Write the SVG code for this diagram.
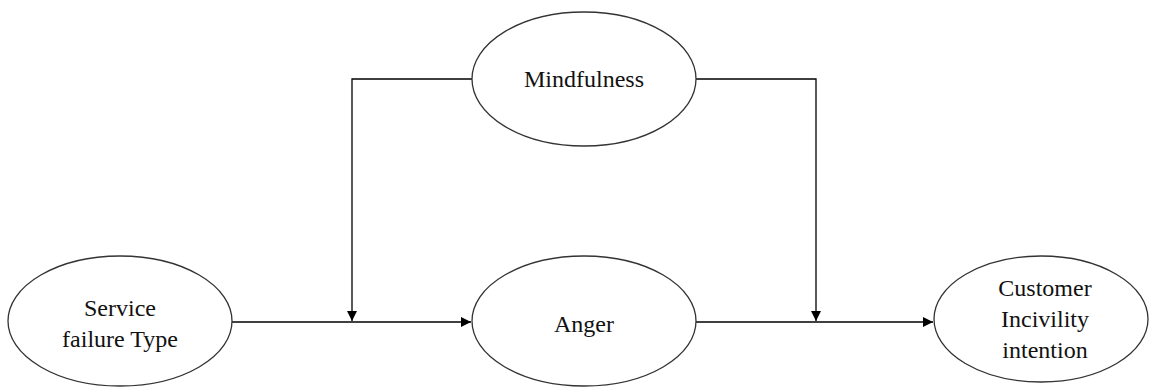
<svg xmlns="http://www.w3.org/2000/svg" width="1149" height="387" viewBox="0 0 1149 387">
<style>
.node{fill:#fff;stroke:#333;stroke-width:1.3}
.lbl{font-family:'Liberation Serif','Times New Roman',Times,'DejaVu Serif',serif;font-size:24px;fill:#111;text-anchor:middle}
.conn{fill:none;stroke:#000;stroke-width:1.3}
</style>
<defs>
<marker id="arr" viewBox="0 0 10 10" refX="10" refY="5" markerWidth="10" markerHeight="10" markerUnits="userSpaceOnUse" orient="auto">
<path d="M0,0 L10,5 L0,10 z" fill="#000"/>
</marker>
</defs>
<rect width="1149" height="387" fill="#fff"/>
<g id="connectors">
<path class="conn" d="M232,322 H471" marker-end="url(#arr)"/>
<path class="conn" d="M696,322 H933" marker-end="url(#arr)"/>
<path class="conn" d="M472,79 H352 V321" marker-end="url(#arr)"/>
<path class="conn" d="M696,79 H816 V321" marker-end="url(#arr)"/>
</g>
<g id="mindfulness">
<ellipse class="node" cx="584" cy="79" rx="112" ry="67"/>
<text class="lbl" x="584" y="87" font-family="Liberation Serif">Mindfulness</text>
</g>
<g id="service">
<ellipse class="node" cx="120" cy="321" rx="112" ry="65"/>
<text class="lbl" x="120" y="316">Service</text>
<text class="lbl" x="120" y="347">failure Type</text>
</g>
<g id="anger">
<ellipse class="node" cx="584" cy="321" rx="112" ry="65"/>
<text class="lbl" x="584" y="332">Anger</text>
</g>
<g id="customer">
<ellipse class="node" cx="1041" cy="319" rx="107" ry="63"/>
<text class="lbl" x="1045" y="296">Customer</text>
<text class="lbl" x="1045" y="327">Incivility</text>
<text class="lbl" x="1045" y="358">intention</text>
</g>
</svg>
